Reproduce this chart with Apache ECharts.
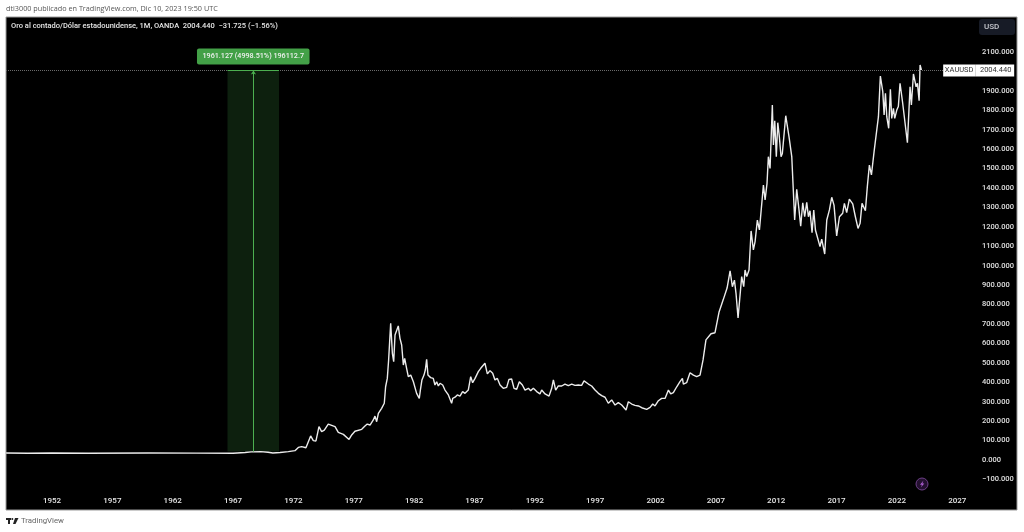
<!DOCTYPE html>
<html><head><meta charset="utf-8">
<style>html,body{margin:0;padding:0;background:#fff}#c{width:1024px;height:532px}</style>
<script src="https://cdn.jsdelivr.net/npm/echarts@6/dist/echarts.min.js"></script>
</head><body><div id="c"></div>
<script>
const years = [1948.2,1950,1952,1955,1960,1964,1967,1968,1968.5,1969.3,1969.9,1970.3,1970.89,1971.58,1972.13,1972.41,1972.69,1973.04,1973.43,1973.65,1973.87,1974.12,1974.34,1974.56,1974.89,1975.45,1975.72,1976.14,1976.61,1976.83,1977.1,
1977.66,1977.93,1978.12,1978.35,1978.62,1978.76,1978.9,1979.04,1979.31,1979.53,1979.64,1979.78,1979.89,1980.06,1980.2,1980.31,1980.42,1980.56,1980.69,1980.83,1980.97,1981.11,1981.22,1981.38,1981.52,1981.72,1981.94,1982.21,1982.43,1982.52,1982.65,1982.82,1982.93,1983.04,1983.15,1983.37,1983.59,1983.73,1983.87,1984.01,1984.15,1984.37,1984.56,1984.84,1985.11,1985.2,1985.39,1985.58,1985.8,1986.02,1986.22,1986.49,1986.69,1986.85,1987.05,1987.32,1987.52,1987.68,1987.87,1988.07,1988.29,1988.51,1988.7,1988.9,1989.12,1989.39,1989.67,1989.86,1990.08,1990.28,1990.5,1990.72,1990.97,1991.19,1991.47,1991.66,1991.88,1992.16,1992.43,1992.57,1992.85,1993.18,1993.4,1993.54,1993.73,1993.95,1994.23,1994.5,1994.78,1995.06,1995.33,1995.61,1995.88,1996.08,1996.44,1996.71,1996.99,1997.27,1997.54,1997.82,1998.09,1998.37,1998.65,1998.92,1999.2,1999.56,1999.75,2000.03,2000.3,2000.58,2000.86,2001.27,2001.55,2001.77,2001.96,2002.24,2002.51,2002.79,2003.07,2003.26,2003.48,2003.76,2004.03,2004.23,2004.31,2004.58,2004.86,2005.14,2005.41,2005.69,2005.94,2006.18,2006.6,2006.93,2007.26,2007.6,2007.93,
2008.18,2008.37,2008.54,2008.67,2008.84,2009.14,2009.31,2009.42,2009.56,2009.75,2009.92,2010.11,2010.25,2010.44,2010.61,2010.94,2011.08,2011.24,2011.35,2011.49,2011.68,2011.77,2011.88,2012.01,2012.13,2012.26,2012.4,2012.51,2012.79,2012.93,2013.06,2013.29,2013.53,2013.7,2013.89,2014.03,2014.2,2014.36,2014.53,2014.67,2014.8,2014.97,2015.11,2015.25,2015.41,2015.63,2015.77,2016.02,2016.19,2016.32,2016.41,2016.6,2016.79,2017.01,2017.24,2017.51,2017.65,2017.84,2018.06,2018.34,2018.56,2018.78,2018.95,2019.11,2019.39,2019.55,2019.72,2019.89,2020.11,2020.27,2020.47,2020.63,2020.83,2020.94,2021.05,2021.16,2021.32,2021.46,2021.57,2021.71,2021.82,2021.99,2022.12,2022.26,2022.48,2022.87,2023.09,2023.2,2023.37,2023.59,2023.7,2023.84,2023.92,2024.03];
const prices = [36,35,36,35,36,35.5,35,39,42,43,40,36,39,43,48,65,69,63,124,100,98,172,146,154,185,172,142,132,106,129,148,
158,175,185,180,206,226,197,240,266,292,377,420,515,703,549,506,643,652,690,626,592,489,523,472,429,437,403,343,317,360,412,437,463,518,437,424,420,386,403,381,395,386,360,335,292,317,323,335,329,352,343,360,429,398,420,455,472,463,498,443,460,446,412,420,386,369,374,415,417,369,364,403,386,360,369,357,369,352,340,360,340,329,369,412,360,381,381,391,383,391,384,386,384,407,391,381,360,343,331,323,292,309,283,295,283,257,300,288,281,278,269,261,271,288,278,305,317,317,360,340,347,377,403,420,391,398,449,437,429,437,515,618,650,655,760,823,885,
974,892,926,858,731,944,892,978,944,978,1179,1081,1124,1235,1184,1415,1338,1424,1561,1501,1827,1621,1746,1561,1736,1664,1561,1578,1772,1716,1664,1561,1235,1393,1287,1204,1324,1252,1326,1252,1283,1170,1287,1184,1189,1098,1137,1060,1235,1235,1287,1352,1312,1153,1252,1270,1321,1273,1343,1318,1252,1192,1218,1321,1283,1407,1518,1467,1587,1587,1767,1976,1896,1776,1887,1767,1707,1908,1758,1810,1758,1801,1819,1939,1836,1633,1921,1827,1987,1921,1939,1849,2033,2007];
const xTicks = [1952,1957,1962,1967,1972,1977,1982,1987,1992,1997,2002,2007,2012,2017,2022,2027];
const yTicks = [-100,0,100,200,300,400,500,600,700,800,900,1000,1100,1200,1300,1400,1500,1600,1700,1800,1900,2100];
const lastPrice = 2004.44;
const measureStart = 1966.54, measureEnd = 1970.81, measureMid = 1968.69, measureLow = 43.313;
const xMin = 1948.19, xMax = 2031.95, priceLineEnd = 2026.0;
const FONT = 'Roboto, sans-serif';
const chart = echarts.init(document.getElementById('c'), null, {renderer:'canvas'});
chart.setOption({
  animation:false,
  backgroundColor:'#ffffff',
  title:[
    {text:'dti3000 publicado en TradingView.com, Dic 10, 2023 19:50 UTC',left:6,top:5,padding:0,textStyle:{fontFamily:'"Open Sans", sans-serif',fontSize:7.25,fontWeight:400,color:'#555'}},
    {text:'Oro al contado/Dólar estadounidense, 1M, OANDA  2004.440  −31.725 (−1.56%)',left:11,top:22,padding:0,textStyle:{fontFamily:FONT,fontSize:7.5,fontWeight:500,color:'#e6e6e6'}},
    {text:'TradingView',left:21,top:517,padding:0,textStyle:{fontFamily:FONT,fontSize:7.8,fontWeight:400,color:'#666'}}
  ],
  grid:{show:true,left:6,right:7,top:17,bottom:22,backgroundColor:'#000',borderColor:'#9a9a9a',borderWidth:1,containLabel:false},
  xAxis:{type:'value',min:xMin,max:xMax,splitLine:{show:false},axisLine:{show:false},axisTick:{show:false},
    axisLabel:{inside:true,margin:5,customValues:xTicks,formatter:v=>String(v),color:'#e6e6e6',fontFamily:FONT,fontSize:8,fontWeight:500}},
  yAxis:{type:'value',position:'right',min:-257.3,max:2280,splitLine:{show:false},axisLine:{show:false},axisTick:{show:false},
    axisLabel:{inside:true,margin:35,align:'left',customValues:yTicks,formatter:v=>(v<0?'−':'')+Math.abs(v).toFixed(3),color:'#e0e0e0',fontFamily:FONT,fontSize:7.5,fontWeight:500}},
  series:[{
    type:'line',data:years.map((y,i)=>[y,prices[i]]),showSymbol:false,symbol:'none',
    lineStyle:{color:'#ececec',width:1.4},silent:true,
    markArea:{silent:true,itemStyle:{color:'rgba(67,160,71,0.2)'},
      label:{show:true,position:'top',distance:6,formatter:'1961.127 (4998.51%) 196112.7',color:'#f2f2f2',fontFamily:FONT,fontSize:7.2,fontWeight:500,backgroundColor:'#43a047',borderRadius:2,padding:[4.5,5.5,4.5,5.5],align:'center'},
      data:[[{xAxis:measureStart,yAxis:measureLow},{xAxis:measureEnd,yAxis:lastPrice}]]},
    markLine:{silent:true,symbol:'none',animation:false,
      data:[
        [{coord:[xMin,lastPrice],lineStyle:{color:'#6a6a6a',type:'dotted',width:1},
          label:{show:true,position:'end',distance:-2,formatter:'{a|XAUUSD}{b|2004.440}',
            rich:{a:{backgroundColor:'#fff',color:'#333',fontFamily:FONT,fontSize:7.5,padding:[2,2,2,2],width:28,align:'center'},
                  b:{backgroundColor:'#fff',color:'#333',fontFamily:FONT,fontSize:7.5,padding:[2,2,2,4],width:33,align:'center'}}}},
         {coord:[priceLineEnd,lastPrice]}],
        [{coord:[measureStart,lastPrice],lineStyle:{color:'#4caf50',type:'solid',width:1},label:{show:false}},{coord:[measureEnd,lastPrice]}],
        [{coord:[measureMid,measureLow],symbol:'none',lineStyle:{color:'#4caf50',type:'solid',width:1},label:{show:false}},{coord:[measureMid,lastPrice],symbol:'arrow',symbolSize:4}]
      ]}
  }],
  graphic:[
    {type:'rect',z:10,shape:{x:979,y:19,width:36,height:16,r:3},style:{fill:'#171b26'}},
    {type:'text',z:11,style:{x:984,y:23,text:'USD',fill:'#c8cad0',font:'500 8px '+FONT}},
    {type:'circle',z:10,shape:{cx:922,cy:484,r:6},style:{fill:'#241030',stroke:'#6d3f88',lineWidth:1}},
    {type:'polygon',z:11,shape:{points:[[923.5,480.5],[920,484.7],[922,484.7],[920.8,487.5],[924.3,483.4],[922.3,483.4]]},style:{fill:'#b061d6'}},
    {type:'rect',z:10,shape:{x:6,y:518,width:5,height:2},style:{fill:'#222'}},
    {type:'rect',z:10,shape:{x:8,y:518,width:2,height:6},style:{fill:'#222'}},
    {type:'circle',z:10,shape:{cx:12.3,cy:519,r:1},style:{fill:'#222'}},
    {type:'polygon',z:10,shape:{points:[[15,518],[18.5,518],[15.5,524],[13,524]]},style:{fill:'#222'}}
  ]
});
</script></body></html>
